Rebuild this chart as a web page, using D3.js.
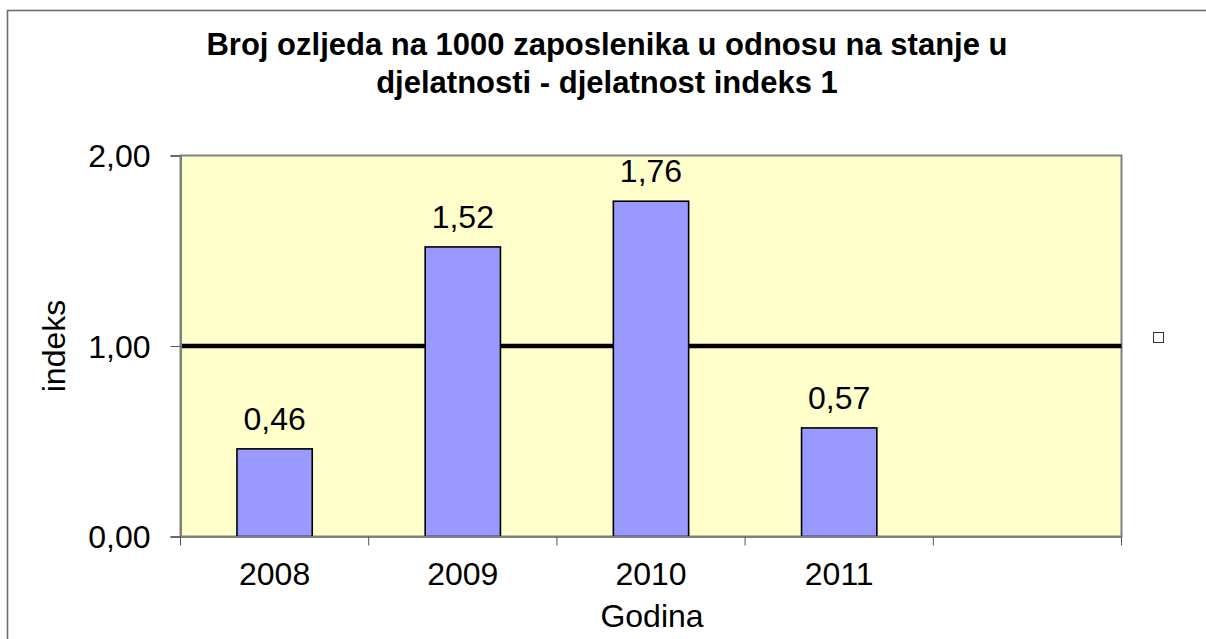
<!DOCTYPE html>
<html>
<head>
<style>
  body {
    margin: 0;
    background-color: #fff;
  }

  text {
    font-family: "Liberation Sans", Arial, sans-serif;
    fill: #000;
  }
</style>
  <script src="https://d3js.org/d3.v7.min.js"></script>
</head>
<body>
<script>
// chart data
const categories = ['2008', '2009', '2010', '2011', ''];
const values = [0.46, 1.52, 1.76, 0.57];
const yTicks = [0, 1, 2];
const referenceValue = 1;
const titleLines = [
  'Broj ozljeda na 1000 zaposlenika u odnosu na stanje u',
  'djelatnosti - djelatnost indeks 1'
];

const width = 1206;
const height = 639;

const plot = { left: 180.5, top: 155.5, right: 1121.5, bottom: 536.5 };

const svg = d3.select('body')
  .append('svg')
  .attr('width', width)
  .attr('height', height);

// outer chart border (right and bottom run off the picture)
svg.append('rect')
  .attr('x', 7.5)
  .attr('y', 10.5)
  .attr('width', width + 20)
  .attr('height', height + 20)
  .attr('fill', 'none')
  .attr('stroke', '#6e6e6e')
  .attr('stroke-width', 1.6);

const x = d3.scaleBand()
  .domain(categories)
  .range([plot.left, plot.right]);

const y = d3.scaleLinear()
  .domain([0, 2])
  .range([plot.bottom, plot.top]);

// plot area
svg.append('rect')
  .attr('x', plot.left)
  .attr('y', plot.top)
  .attr('width', plot.right - plot.left)
  .attr('height', plot.bottom - plot.top)
  .attr('fill', '#FFFFCC')
  .attr('stroke', '#808080')
  .attr('stroke-width', 2);

// reference line at 1,00
svg.append('line')
  .attr('x1', plot.left)
  .attr('x2', plot.right)
  .attr('y1', y(referenceValue))
  .attr('y2', y(referenceValue))
  .attr('stroke', '#000')
  .attr('stroke-width', 4.5);

// bars, 150% gap like excel
const barWidth = x.bandwidth() * 0.4;

svg.selectAll('.bar')
  .data(values)
  .enter()
  .append('rect')
  .attr('class', 'bar')
  .attr('x', (d, i) => x(categories[i]) + (x.bandwidth() - barWidth) / 2)
  .attr('y', d => y(d))
  .attr('width', barWidth)
  .attr('height', d => y(0) - y(d))
  .attr('fill', '#9999FF')
  .attr('stroke', '#000')
  .attr('stroke-width', 1.6);

const commaFormat = d => d3.format('.2f')(d).replace('.', ',');

// value labels
svg.selectAll('.value')
  .data(values)
  .enter()
  .append('text')
  .attr('class', 'value')
  .attr('x', (d, i) => x(categories[i]) + x.bandwidth() / 2)
  .attr('y', d => y(d) - 19)
  .attr('text-anchor', 'middle')
  .style('font-size', '32px')
  .text(commaFormat);

// y axis
const yAxis = svg.append('g')
  .attr('transform', `translate(${plot.left},0)`)
  .call(d3.axisLeft(y)
    .tickValues(yTicks)
    .tickSize(10)
    .tickPadding(20)
    .tickFormat(commaFormat));

yAxis.select('.domain').attr('stroke', '#808080').attr('stroke-width', 2);
yAxis.selectAll('.tick line').attr('stroke', '#555');
yAxis.selectAll('.tick text')
  .attr('font-family', null)
  .attr('dy', '0.35em')
  .style('font-size', '32px');

// x axis, ticks sit on the category boundaries
const xAxis = svg.append('g')
  .attr('transform', `translate(0,${plot.bottom})`)
  .call(d3.axisBottom(x).tickSize(0));

xAxis.select('.domain').attr('stroke', '#808080').attr('stroke-width', 2);
xAxis.selectAll('.tick text')
  .attr('font-family', null)
  .attr('y', 48.5)
  .attr('dy', null)
  .style('font-size', '32px');

const boundaries = categories.map(c => x(c)).concat([plot.right]);

xAxis.selectAll('.boundary')
  .data(boundaries)
  .enter()
  .append('line')
  .attr('class', 'boundary')
  .attr('x1', d => d)
  .attr('x2', d => d)
  .attr('y1', 0)
  .attr('y2', 9)
  .attr('stroke', '#555');

// titles
svg.append('text')
  .attr('text-anchor', 'middle')
  .style('font-size', '31px')
  .style('font-weight', 'bold')
  .selectAll('tspan')
  .data(titleLines)
  .enter()
  .append('tspan')
  .attr('x', 607)
  .attr('y', (d, i) => 55 + i * 38)
  .text(d => d);

svg.append('text')
  .attr('x', 652)
  .attr('y', 627)
  .attr('text-anchor', 'middle')
  .style('font-size', '32px')
  .text('Godina');

svg.append('text')
  .attr('transform', `translate(65,${(plot.top + plot.bottom) / 2}) rotate(-90)`)
  .attr('text-anchor', 'middle')
  .style('font-size', '32px')
  .text('indeks');

// empty legend
svg.append('rect')
  .attr('x', 1153.5)
  .attr('y', 332.5)
  .attr('width', 10)
  .attr('height', 10)
  .attr('fill', '#fff')
  .attr('stroke', '#333')
  .attr('stroke-width', 1);
</script>
</body>
</html>
